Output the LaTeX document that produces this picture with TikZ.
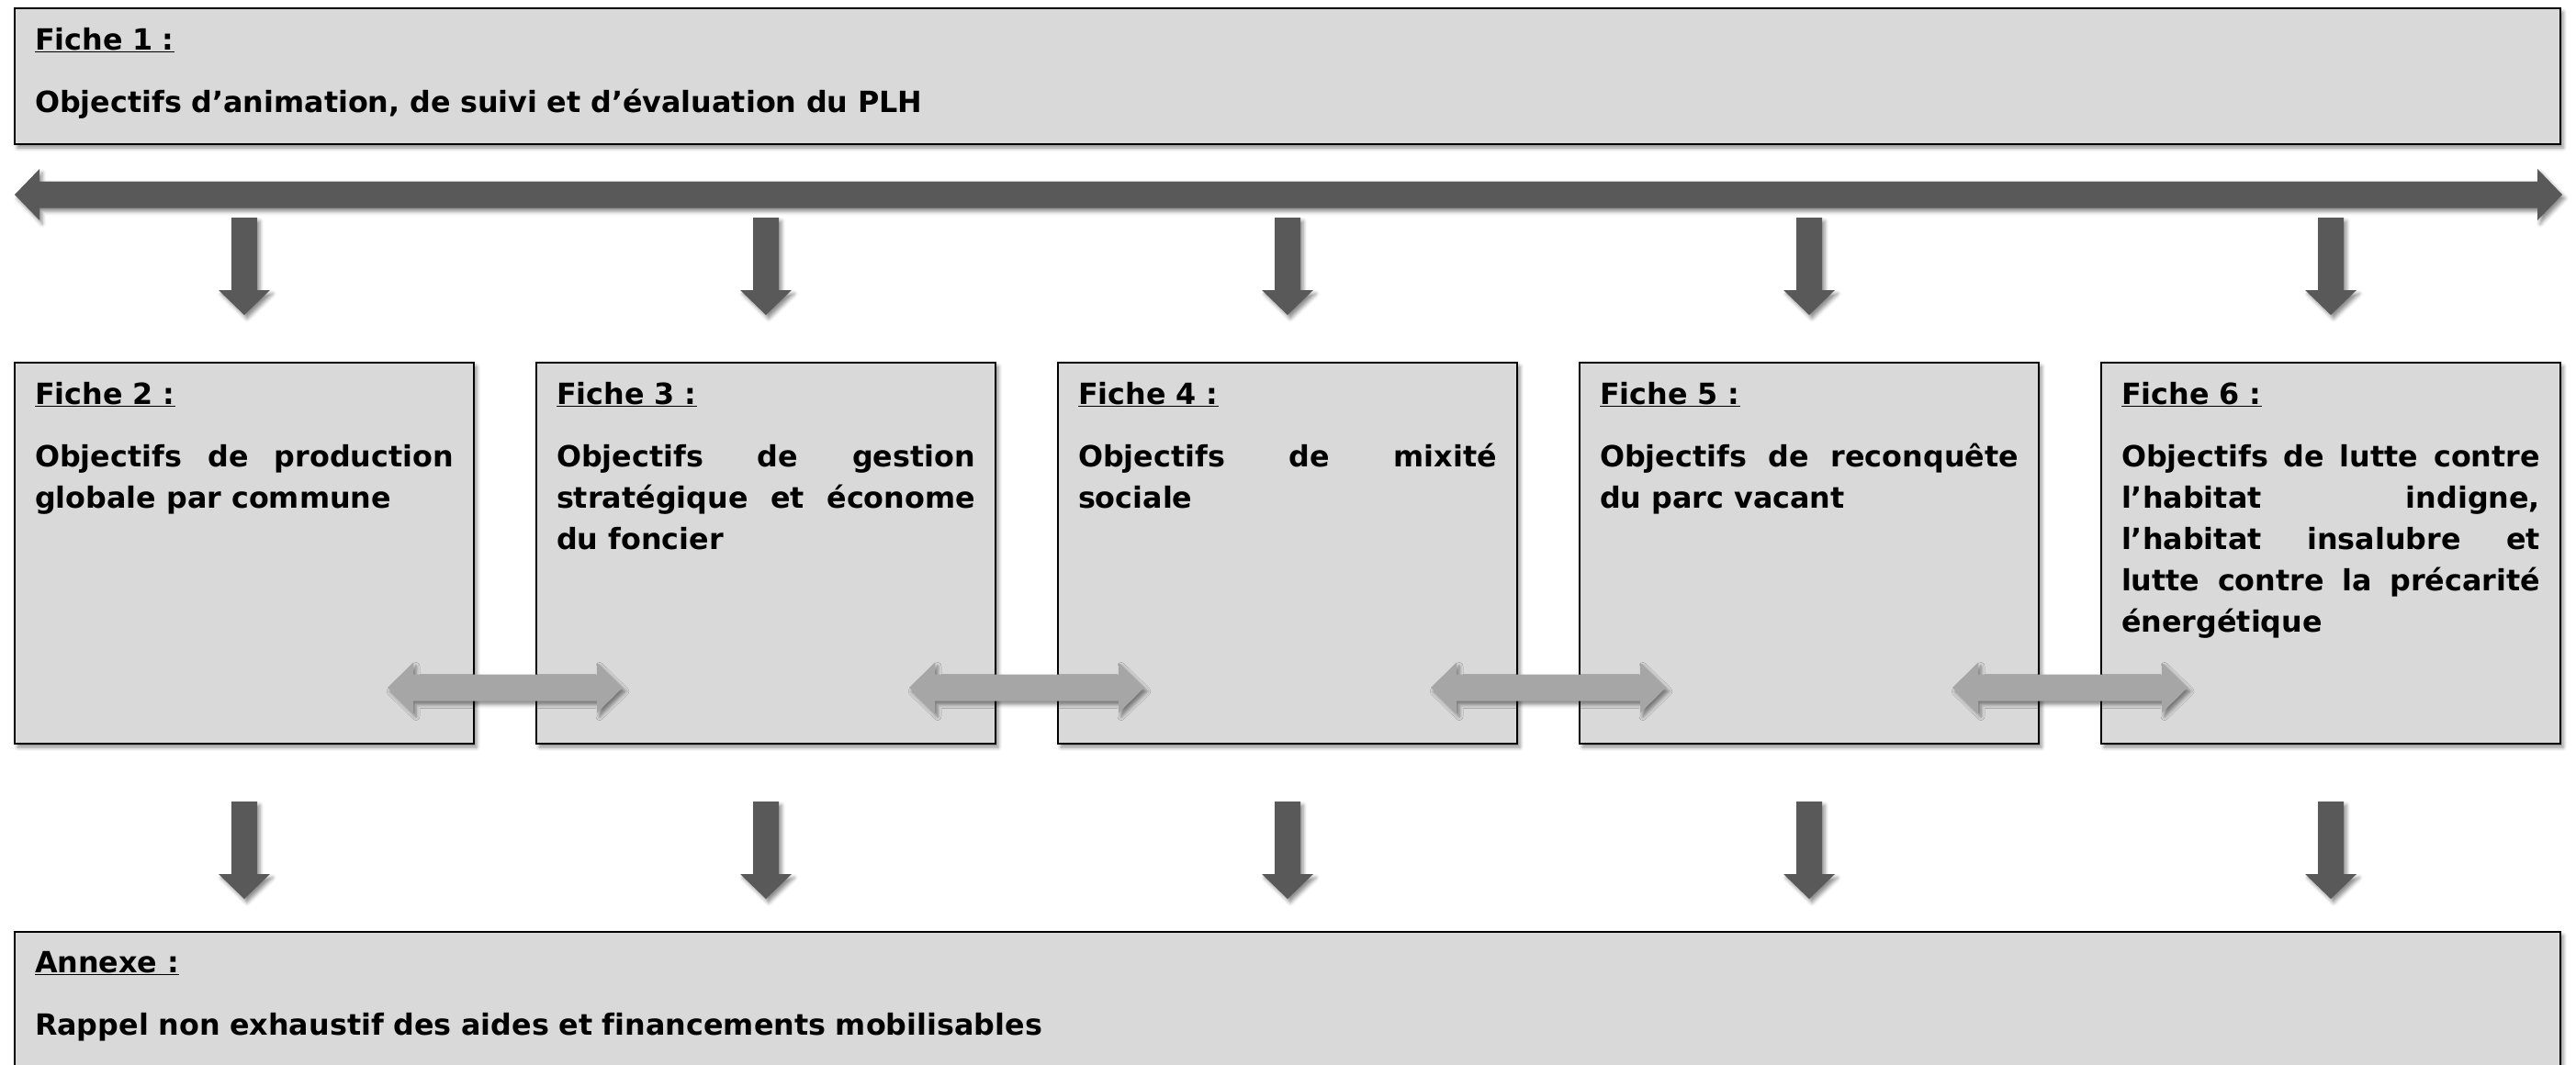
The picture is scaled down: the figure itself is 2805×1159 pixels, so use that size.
\documentclass[tikz,border=0pt]{standalone}
\usepackage{fontspec}
\setmainfont[Ligatures=NoCommon]{DejaVu Sans}
\usepackage{xcolor}
\usepackage{tikz}
\usetikzlibrary{positioning,calc,shadows.blur}
\setlength{\parindent}{0pt}
\tolerance=10000
\hyphenpenalty=10000

\definecolor{boxgrey}{HTML}{D9D9D9}
\definecolor{arrdark}{HTML}{595959}
\definecolor{arrlight}{HTML}{A6A6A6}

% header line
\newcommand{\fhead}[1]{\rule{0pt}{32pt}\underline{#1}\\[23pt]}

\tikzset{
  softshadow/.style={blur shadow={shadow xshift=3pt, shadow yshift=-4pt, shadow blur radius=4pt, shadow opacity=45}},
  downarr/.pic={\fill[arrdark, softshadow] (-14,0) -- (14,0) -- (14,79) -- (28,79) -- (0,106) -- (-28,79) -- (-14,79) -- cycle;},
  linkarr/.pic={\fill[arrlight, softshadow] (-128,0) -- (-100,-27.5) -- (-100,-14.5) -- (100,-14.5) -- (100,-27.5) -- (128,0) -- (100,27.5) -- (100,14.5) -- (-100,14.5) -- (-100,27.5) -- cycle;}
}

\begin{document}
\begin{tikzpicture}[
  x=1pt, y=-1pt,
  node distance=68pt,
  fiche/.style={draw=black, line width=2pt, fill=boxgrey, minimum width=500pt, minimum height=415pt, inner sep=0pt, outer sep=0pt, softshadow},
  ftext/.style={inner sep=0pt, outer sep=0pt, text width=456pt, align=justify, font=\fontsize{31.8}{45}\selectfont\bfseries}
]
\useasboundingbox (0,0) rectangle (2805,1159);
\clip (0,0) rectangle (2805,1159);

% fiche 1
\node[fiche, anchor=north west, minimum width=2772pt, minimum height=148pt] (f1) at (16,9) {};
\node[ftext, text width=2700pt, align=left, below right=13pt and 22pt of f1.north west] (t1) {\fhead{Fiche 1 :}Objectifs d’animation, de suivi et d’évaluation du PLH};

% fiches 2 to 6
\node[fiche, anchor=north west] (f2) at (16,395) {};
\node[fiche, right=of f2] (f3) {};
\node[fiche, right=of f3] (f4) {};
\node[fiche, right=of f4] (f5) {};
\node[fiche, right=of f5] (f6) {};

\node[ftext, below right=13pt and 22pt of f2.north west] (t2) {\fhead{Fiche 2 :}Objectifs de production\linebreak globale par commune};
\node[ftext, below right=13pt and 22pt of f3.north west] (t3) {\fhead{Fiche 3 :}Objectifs de gestion\linebreak stratégique et économe\linebreak du foncier};
\node[ftext, below right=13pt and 22pt of f4.north west] (t4) {\fhead{Fiche 4 :}Objectifs de mixité\linebreak sociale};
\node[ftext, below right=13pt and 22pt of f5.north west] (t5) {\fhead{Fiche 5 :}Objectifs de reconquête\linebreak du parc vacant};
\node[ftext, below right=13pt and 22pt of f6.north west] (t6) {\fhead{Fiche 6 :}Objectifs de lutte contre\linebreak l’habitat indigne,\linebreak l’habitat insalubre et\linebreak lutte contre la précarité\linebreak énergétique};

% annexe
\node[fiche, anchor=north west, minimum width=2772pt, minimum height=200pt] (ax) at (16,1015) {};
\node[ftext, text width=2700pt, align=left, below right=12pt and 22pt of ax.north west] (tx) {\fhead{Annexe :}Rappel non exhaustif des aides et financements mobilisables};

% big double arrow
\coordinate (bl) at ([yshift=-55pt]f1.south west);
\coordinate (br) at ([yshift=-55pt, xshift=2pt]f1.south east);
\fill[arrdark, softshadow] (bl) -- ++(27,-28) -- ++(0,13.5) -- ($(br)+(-27,-14.5)$) -- ++(0,-13.5) -- (br) -- ++(-27,28) -- ++(0,-13.5) -- ($(bl)+(27,14.5)$) -- ++(0,13.5) -- cycle;

% arrows down
\pic at ([yshift=158pt]f2.north) {downarr};
\pic at ([yshift=158pt]f3.north) {downarr};
\pic at ([yshift=158pt]f4.north) {downarr};
\pic at ([yshift=158pt]f5.north) {downarr};
\pic at ([yshift=158pt]f6.north) {downarr};
\pic at ([yshift=-63pt]f2.south) {downarr};
\pic at ([yshift=-63pt]f3.south) {downarr};
\pic at ([yshift=-63pt]f4.south) {downarr};
\pic at ([yshift=-63pt]f5.south) {downarr};
\pic at ([yshift=-63pt]f6.south) {downarr};

% links between fiches
\pic at ([xshift=34pt, yshift=61pt]f2.south east) {linkarr};
\pic at ([xshift=34pt, yshift=61pt]f3.south east) {linkarr};
\pic at ([xshift=34pt, yshift=61pt]f4.south east) {linkarr};
\pic at ([xshift=34pt, yshift=61pt]f5.south east) {linkarr};
\end{tikzpicture}
\end{document}
